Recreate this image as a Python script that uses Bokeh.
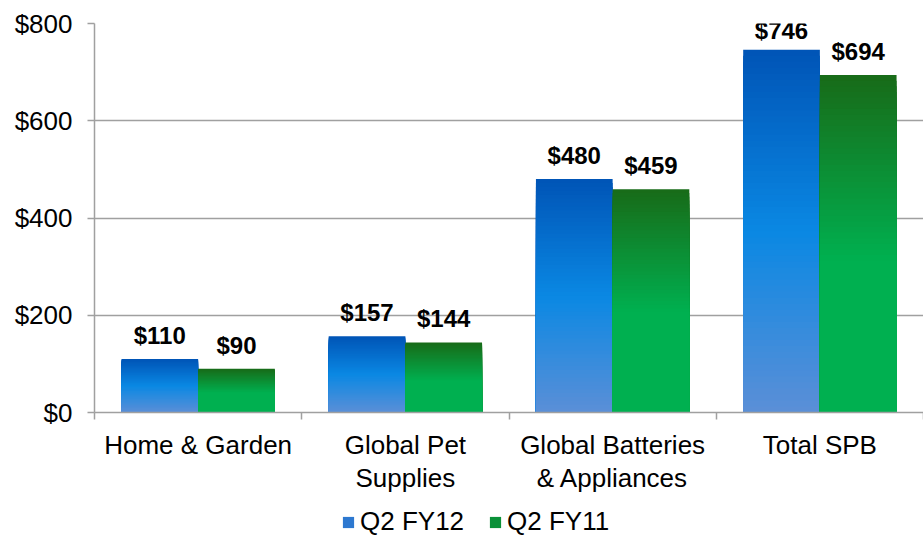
from bokeh.plotting import figure
from bokeh.layouts import column
from bokeh.core.properties import value
from bokeh.models import (ColumnDataSource, FixedTicker, LabelSet, Legend,
                          LegendItem, NumeralTickFormatter, Range1d)
from bokeh.embed import file_html
from bokeh.resources import INLINE

# ---- data ----
categories = ["Home & Garden", "Global Pet\nSupplies",
              "Global Batteries\n& Appliances", "Total SPB"]
q2_fy12 = [110, 157, 480, 746]
q2_fy11 = [90, 144, 459, 694]
series_names = ["Q2 FY12", "Q2 FY11"]
y_ticks = [0, 200, 400, 600, 800]

# ---- style ----
FONT = "Liberation Sans"
GREY = "#a0a0a0"
BAR_W = 0.37
N_SEG = 60
TOP, FRAME_H, LEFT = 23, 389, 94
MAIN_H = 506
blue_stops = [(0.0, "#5b8fd7"), (0.5, "#0a88e3"), (1.0, "#0054b6")]
green_stops = [(0.0, "#00b050"), (0.45, "#00b050"), (1.0, "#186b18")]


def hex2rgb(h):
    return tuple(int(h[i:i + 2], 16) for i in (1, 3, 5))


def color_at(stops, t):
    for (t0, c0), (t1, c1) in zip(stops, stops[1:]):
        if t <= t1:
            f = (t - t0) / (t1 - t0) if t1 > t0 else 0.0
            a, b = hex2rgb(c0), hex2rgb(c1)
            return "#%02x%02x%02x" % tuple(round(a[k] + (b[k] - a[k]) * f) for k in range(3))
    return stops[-1][1]


p = figure(width=923, height=MAIN_H, x_range=Range1d(0, 4), y_range=Range1d(0, y_ticks[-1]),
           output_backend="svg", toolbar_location=None,
           min_border_left=LEFT, min_border_right=0, min_border_top=TOP,
           min_border_bottom=MAIN_H - TOP - FRAME_H)
p.outline_line_color = None
p.background_fill_color = "white"
p.border_fill_color = "white"


def gradient_bars(values, offset_left, stops):
    left, right, bottom, top, color = [], [], [], [], []
    for k in range(N_SEG, 0, -1):
        c = color_at(stops, (k - 0.5) / N_SEG)
        for i, v in enumerate(values):
            l = i + 0.5 + offset_left
            left.append(l)
            right.append(l + BAR_W)
            bottom.append(0)
            top.append(v * k / N_SEG)
            color.append(c)
    src = ColumnDataSource(dict(left=left, right=right, bottom=bottom, top=top, color=color))
    p.quad(left="left", right="right", bottom="bottom", top="top", source=src,
           fill_color="color", line_color=None)


gradient_bars(q2_fy12, -BAR_W, blue_stops)
gradient_bars(q2_fy11, 0.0, green_stops)

# value labels (kept inside the plot area near the top, like the original)
px_per_unit = FRAME_H / y_ticks[-1]
for vals, off in ((q2_fy12, -BAR_W / 2), (q2_fy11, BAR_W / 2)):
    offs = [min(15, (y_ticks[-1] - v) * px_per_unit - 15) for v in vals]
    lsrc = ColumnDataSource(dict(x=[i + 0.5 + off for i in range(len(vals))], y=vals,
                                 t=["$%d" % v for v in vals], o=offs))
    p.add_layout(LabelSet(x="x", y="y", text="t", source=lsrc, text_align="center",
                          text_baseline="alphabetic", y_offset="o",
                          text_font=value(FONT), text_font_size=value("24px"),
                          text_font_style="bold", text_color="black"))

# axes
p.xgrid.visible = False
p.ygrid.grid_line_color = GREY
p.ygrid.grid_line_width = 1.5
p.ygrid.ticker = FixedTicker(ticks=y_ticks)

p.yaxis.ticker = FixedTicker(ticks=y_ticks)
p.yaxis.formatter = NumeralTickFormatter(format="$0")
p.yaxis.axis_line_color = GREY
p.yaxis.axis_line_width = 1.5
p.yaxis.major_tick_line_color = GREY
p.yaxis.major_tick_line_width = 1.5
p.yaxis.major_tick_out = 7
p.yaxis.major_tick_in = 0
p.yaxis.minor_tick_line_color = None
p.yaxis.major_label_standoff = 15
p.yaxis.major_label_text_font = FONT
p.yaxis.major_label_text_font_size = "26px"
p.yaxis.major_label_text_color = "black"

p.xaxis.ticker = FixedTicker(ticks=[i + 0.5 for i in range(len(categories))],
                             minor_ticks=list(range(len(categories) + 1)))
p.xaxis.major_label_overrides = {i + 0.5: c for i, c in enumerate(categories)}
p.xaxis.axis_line_color = GREY
p.xaxis.axis_line_width = 1.5
p.xaxis.major_tick_line_color = None
p.xaxis.major_tick_out = 0
p.xaxis.major_tick_in = 0
p.xaxis.minor_tick_line_color = GREY
p.xaxis.minor_tick_line_width = 1.5
p.xaxis.minor_tick_out = 7
p.xaxis.minor_tick_in = 0
p.xaxis.major_label_standoff = 10
p.xaxis.major_label_text_font = FONT
p.xaxis.major_label_text_font_size = "26px"
p.xaxis.major_label_text_color = "black"
p.xaxis.major_label_text_line_height = 1.1

# legend strip below the chart (its frame is aligned with the main frame by the column)
lg = figure(width=923, height=539 - MAIN_H, x_range=Range1d(0, 1), y_range=Range1d(0, 1),
            output_backend="svg", toolbar_location=None,
            x_axis_location=None, y_axis_location=None,
            min_border_left=LEFT, min_border_right=0, min_border_top=0, min_border_bottom=0)
lg.outline_line_color = None
lg.grid.visible = False
# swatch renderers sit outside the visible range; only their legend glyphs show
r_blue = lg.quad(left=[5], right=[6], bottom=[5], top=[6], fill_color="#2d78d0", line_color=None)
r_green = lg.quad(left=[5], right=[6], bottom=[5], top=[6], fill_color="#0a9138", line_color=None)
legend = Legend(items=[LegendItem(label=series_names[0], renderers=[r_blue]),
                       LegendItem(label=series_names[1], renderers=[r_green])],
                orientation="horizontal", location=(341 - LEFT, 2),
                glyph_width=14, glyph_height=14, label_standoff=5, spacing=24,
                label_text_font=FONT, label_text_font_size="26px",
                label_text_line_height=1.0, label_height=14,
                label_text_color="black", border_line_color=None,
                background_fill_alpha=0, padding=0, margin=0)
lg.add_layout(legend, "center")

open("out.html", "w").write(file_html(column(p, lg, spacing=0), INLINE))
